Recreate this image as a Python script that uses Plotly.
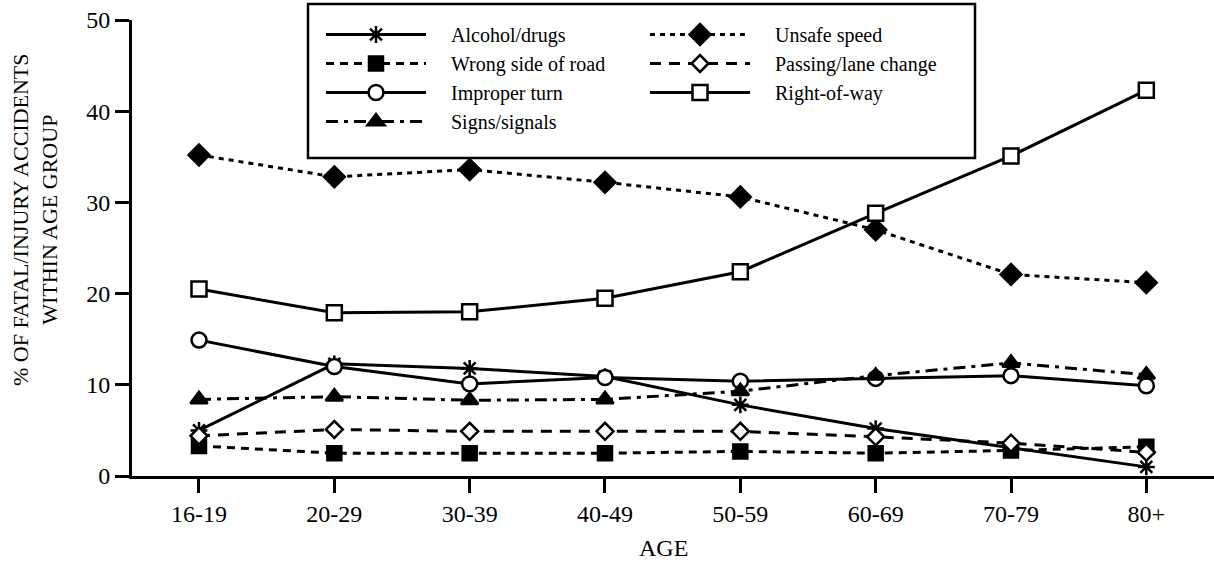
import plotly.graph_objects as go

ages = ["16-19", "20-29", "30-39", "40-49", "50-59", "60-69", "70-79", "80+"]

alcohol_drugs = [5.0, 12.3, 11.8, 10.9, 7.8, 5.2, 3.1, 1.0]
unsafe_speed = [35.2, 32.8, 33.6, 32.2, 30.6, 27.0, 22.1, 21.2]
wrong_side = [3.3, 2.5, 2.5, 2.5, 2.7, 2.5, 2.8, 3.2]
passing_lane = [4.4, 5.1, 4.9, 4.9, 4.9, 4.3, 3.6, 2.6]
improper_turn = [14.9, 12.0, 10.1, 10.8, 10.4, 10.7, 11.0, 9.9]
right_of_way = [20.5, 17.9, 18.0, 19.5, 22.4, 28.8, 35.1, 42.3]
signs_signals = [8.4, 8.7, 8.3, 8.4, 9.3, 11.0, 12.4, 11.1]

y_ticks = [0, 10, 20, 30, 40, 50]

FONT = "Liberation Serif"
PAD = "\u00a0" * 4

# name, values, dash, symbol, size, fill, legend column
series = [
    ("Alcohol/drugs", alcohol_drugs, "solid", "asterisk-open", 14, "black", "legend"),
    ("Wrong side of road", wrong_side, "8px,6px", "square", 14, "black", "legend"),
    ("Improper turn", improper_turn, "solid", "circle", 15, "white", "legend"),
    ("Signs/signals", signs_signals, "12px,6px,4px,6px", "triangle-up", 15, "black", "legend"),
    ("Unsafe speed", unsafe_speed, "5px,5px", "diamond", 16, "black", "legend2"),
    ("Passing/lane change", passing_lane, "11px,8px", "diamond", 13, "white", "legend2"),
    ("Right-of-way", right_of_way, "solid", "square", 15, "white", "legend2"),
]

fig = go.Figure()
for name, vals, dash, sym, size, fill, leg in series:
    fig.add_trace(go.Scatter(
        x=ages, y=vals, name=PAD + name, mode="lines+markers",
        legend=leg,
        line=dict(color="black", width=3, dash=dash),
        marker=dict(symbol=sym, size=size, color=fill if sym != "asterisk-open" else "black",
                    line=dict(color="black", width=2.5)),
        cliponaxis=False,
    ))

leg_common = dict(
    orientation="v", xanchor="left", yanchor="top",
    font=dict(family=FONT, size=20, color="black"),
    bgcolor="rgba(0,0,0,0)", borderwidth=0,
    itemwidth=100, traceorder="normal",
)

leg_top = (476 - 15) / 456

fig.update_layout(
    width=1214, height=565,
    margin=dict(l=132, r=0, t=20, b=89),
    paper_bgcolor="white", plot_bgcolor="white",
    font=dict(family=FONT, size=24, color="black"),
    showlegend=True,
    legend=dict(x=(321 - 132) / 1082, y=leg_top, **leg_common),
    legend2=dict(x=(645 - 132) / 1082, y=leg_top, **leg_common),
    xaxis=dict(
        type="category", range=[-0.495, 7.5],
        showline=True, linecolor="black", linewidth=3,
        ticks="outside", ticklen=14, tickwidth=3, tickcolor="black",
        showgrid=False, zeroline=False,
        tickfont=dict(family=FONT, size=24),
    ),
    yaxis=dict(
        range=[0, 50], tickvals=y_ticks,
        showline=True, linecolor="black", linewidth=3,
        ticks="outside", ticklen=14, tickwidth=3, tickcolor="black",
        showgrid=False, zeroline=False,
        tickfont=dict(family=FONT, size=24),
    ),
    shapes=[dict(type="rect", xref="paper", yref="paper",
                 x0=(308 - 132) / 1082, x1=(975 - 132) / 1082,
                 y0=(476 - 158) / 456, y1=(476 - 4) / 456,
                 line=dict(color="black", width=2.5), fillcolor="white",
                 layer="below")],
    annotations=[
        dict(text="% OF FATAL/INJURY ACCIDENTS<br>WITHIN AGE GROUP",
             xref="paper", yref="paper", x=(35 - 132) / 1082, y=(476 - 220) / 456,
             xanchor="center", yanchor="middle", textangle=-90, showarrow=False,
             font=dict(family=FONT, size=22)),
        dict(text="AGE", xref="paper", yref="paper",
             x=(663 - 132) / 1082, y=(476 - 548) / 456,
             xanchor="center", yanchor="middle", showarrow=False,
             font=dict(family=FONT, size=24)),
    ],
)

fig.write_html("out.html", config={"displayModeBar": False},
               post_script="document.body.style.margin='0';")
